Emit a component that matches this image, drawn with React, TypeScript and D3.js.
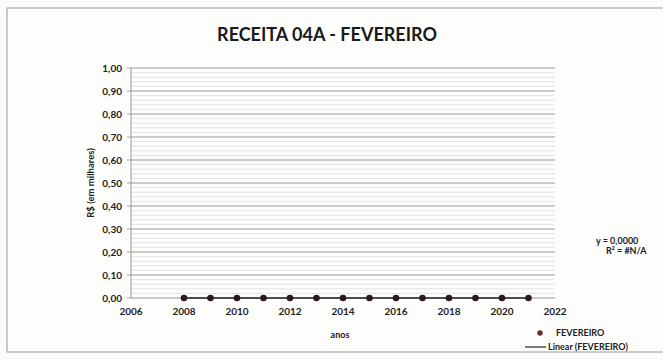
import React from "react";
import * as d3 from "d3";

const years = [2008, 2009, 2010, 2011, 2012, 2013, 2014, 2015, 2016, 2017, 2018, 2019, 2020, 2021];
const values = [0, 0, 0, 0, 0, 0, 0, 0, 0, 0, 0, 0, 0, 0];
const yTicks = [0, 0.1, 0.2, 0.3, 0.4, 0.5, 0.6, 0.7, 0.8, 0.9, 1.0];
const xTicks = [2006, 2008, 2010, 2012, 2014, 2016, 2018, 2020, 2022];
const title = "RECEITA 04A - FEVEREIRO";
const seriesName = "FEVEREIRO";

export default function App() {
  const W = 663, H = 360;
  const x = d3.scaleLinear().domain([2006, 2022]).range([131, 555]);
  const y = d3.scaleLinear().domain([0, 1]).range([298, 68]);
  const minor = d3.range(0, 1.0001, 0.02);
  const fmt = (v: number) => v.toFixed(2).replace(".", ",");
  const font = "Lato, 'Open Sans', sans-serif";
  const line = d3.line<number>().x((d) => x(d)).y(() => y(0));
  return (
    <svg width={W} height={H} style={{ position: "absolute", left: 0, top: 0, background: "#fbfbfa" }} fontFamily={font}>
      <rect x={7} y={8} width={670} height={344} fill="#fdfdfc" stroke="#9a9a9a" strokeWidth={1} />
      <text x={327} y={41} textAnchor="middle" fontSize={18} fontWeight="bold" fill="#1a1a1a">{title}</text>
      {minor.map((v, i) => (
        <line key={"m" + i} x1={x(2006)} x2={x(2022)} y1={y(v)} y2={y(v)} stroke="#dcdcdc" strokeWidth={0.8} />
      ))}
      {yTicks.map((v, i) => (
        <g key={"y" + i}>
          <line x1={x(2006) - 4} x2={x(2022)} y1={y(v)} y2={y(v)} stroke="#9c9c9c" strokeWidth={0.9} />
          <text x={122} y={y(v) + 3.5} textAnchor="end" fontSize={10} fontWeight="bold" fill="#222">{fmt(v)}</text>
        </g>
      ))}
      <line x1={x(2006)} x2={x(2006)} y1={y(1)} y2={y(0)} stroke="#999" strokeWidth={1} />
      {xTicks.map((v, i) => (
        <text key={"x" + i} x={x(v)} y={y(0) + 17} textAnchor="middle" fontSize={10} fontWeight="bold" fill="#222">{v}</text>
      ))}
      <text transform={`translate(94,${(y(0.3) + y(0.7)) / 2}) rotate(-90)`} textAnchor="middle" fontSize={9.5} fontWeight="bold" fill="#222">R$ (em milhares)</text>
      <text x={340} y={338} textAnchor="middle" fontSize={9} fontWeight="bold" fill="#222">anos</text>
      <path d={line([years[0], years[years.length - 1]]) || ""} stroke="#222" strokeWidth={1.3} fill="none" />
      {years.map((yr, i) => (
        <path key={"p" + i} d={d3.symbol(d3.symbolCircle, 34)() || ""} transform={`translate(${x(yr)},${y(values[i])})`} fill="#2a1a1c" />
      ))}
      <text x={596} y={244} fontSize={9} fontWeight="bold" fill="#222">y = 0,0000</text>
      <text x={606} y={254} fontSize={9} fontWeight="bold" fill="#222">R² = #N/A</text>
      <path d={d3.symbol(d3.symbolCircle, 24)() || ""} transform={`translate(540,333)`} fill="#6b2a32" />
      <text x={556} y={336} fontSize={9} fontWeight="bold" fill="#222">{seriesName}</text>
      <line x1={525} x2={546} y1={347} y2={347} stroke="#222" strokeWidth={1.2} />
      <text x={548} y={350} fontSize={9} fontWeight="bold" fill="#222">Linear ({seriesName})</text>
    </svg>
  );
}
